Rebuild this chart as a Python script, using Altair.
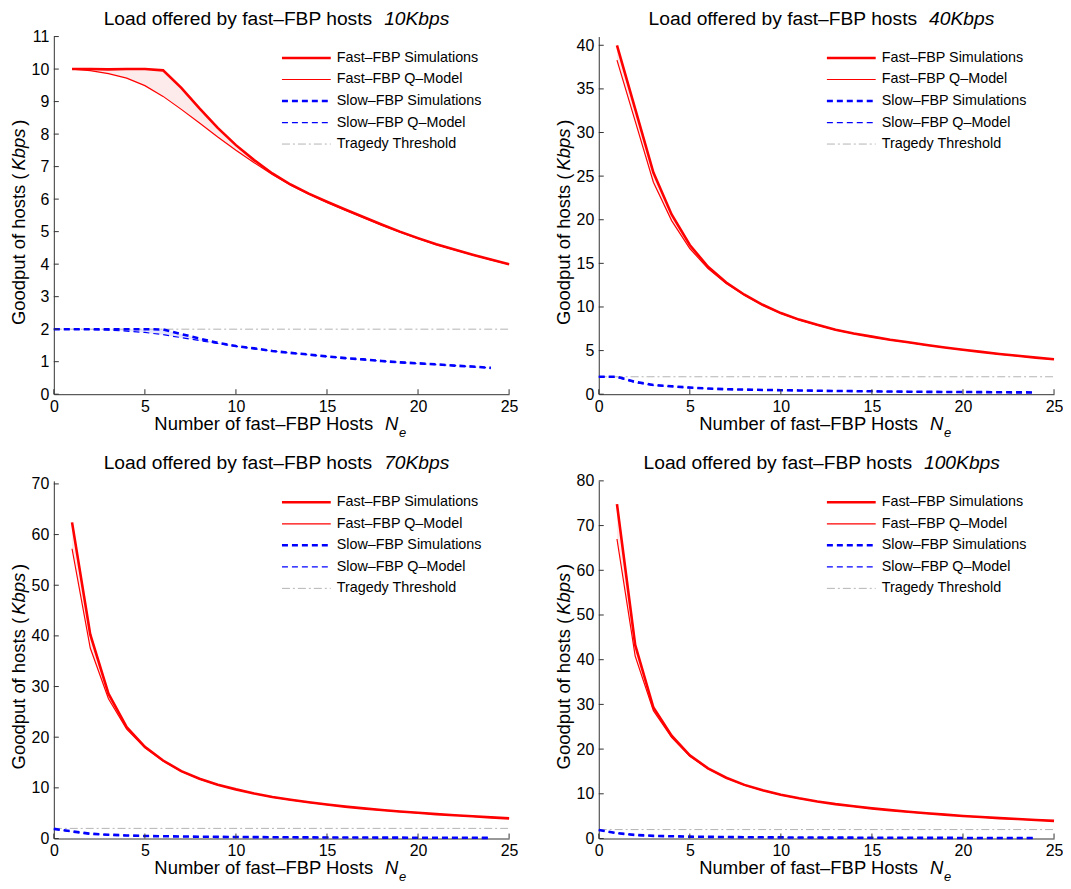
import altair as alt
import pandas as pd

# ---------------- data ----------------
N_FAST = list(range(1, 26))
N_SLOW = list(range(0, 25))
N_THR = [0, 25]
THRESHOLD = [2.0, 2.0]
X_TICKS = [0, 5, 10, 15, 20, 25]

LOADS = ["10Kbps", "40Kbps", "70Kbps", "100Kbps"]
Y_MAX = [11, 41, 70.6, 80]
Y_TICKS = [list(range(0, 12)), list(range(0, 41, 5)),
           list(range(0, 71, 10)), list(range(0, 81, 10))]

LEGEND_LABELS = ["Fast–FBP Simulations", "Fast–FBP Q–Model",
                 "Slow–FBP Simulations", "Slow–FBP Q–Model", "Tragedy Threshold"]

fast_sim_10 = [10.0, 10.0, 9.99, 10.0, 10.0, 9.96, 9.42, 8.79, 8.19, 7.66, 7.2, 6.79, 6.45,
               6.17, 5.92, 5.68, 5.45, 5.22, 5.0, 4.8, 4.61, 4.45, 4.29, 4.14, 4.0]
fast_q_10 = [10.0, 9.95, 9.86, 9.72, 9.49, 9.16, 8.76, 8.34, 7.91, 7.5, 7.12, 6.76, 6.43,
             6.15, 5.9, 5.66, 5.43, 5.2, 4.98, 4.78, 4.6, 4.44, 4.28, 4.13, 3.99]
slow_sim_10 = [2.0, 2.0, 2.0, 2.0, 2.0, 2.0, 1.99, 1.85, 1.71, 1.58, 1.48, 1.41, 1.33,
               1.27, 1.22, 1.16, 1.11, 1.07, 1.02, 0.98, 0.95, 0.92, 0.88, 0.85, 0.81]
slow_q_10 = [2.0, 2.0, 1.99, 1.97, 1.94, 1.9, 1.83, 1.74, 1.65, 1.56, 1.47, 1.4, 1.33,
             1.27, 1.21, 1.16, 1.11, 1.06, 1.02, 0.98, 0.94, 0.91, 0.88, 0.84, 0.81]

fast_sim_40 = [40.0, 32.7, 25.4, 20.6, 17.1, 14.6, 12.8, 11.4, 10.25, 9.3, 8.55, 7.95, 7.4,
               6.97, 6.6, 6.25, 5.95, 5.65, 5.36, 5.1, 4.85, 4.61, 4.4, 4.19, 4.0]
fast_q_40 = [38.3, 31.3, 24.3, 19.9, 16.7, 14.4, 12.7, 11.35, 10.2, 9.27, 8.52, 7.92, 7.38,
             6.95, 6.58, 6.23, 5.93, 5.63, 5.35, 5.09, 4.84, 4.6, 4.39, 4.18, 3.99]
slow_sim_40 = [2.0, 2.0, 1.41, 1.06, 0.91, 0.76, 0.65, 0.57, 0.53, 0.49, 0.46, 0.43, 0.4,
               0.37, 0.35, 0.33, 0.31, 0.29, 0.27, 0.26, 0.25, 0.24, 0.22, 0.21, 0.2]
slow_q_40 = [2.0, 1.95, 1.35, 1.0, 0.87, 0.73, 0.63, 0.56, 0.52, 0.48, 0.45, 0.42, 0.39,
             0.37, 0.34, 0.32, 0.3, 0.29, 0.27, 0.26, 0.24, 0.23, 0.22, 0.21, 0.2]

fast_sim_70 = [62.4, 40.3, 28.6, 22.0, 18.1, 15.4, 13.3, 11.8, 10.6, 9.7, 8.9, 8.2, 7.65,
               7.15, 6.7, 6.3, 5.95, 5.62, 5.33, 5.07, 4.82, 4.6, 4.38, 4.17, 3.97]
fast_q_70 = [57.2, 37.6, 27.6, 21.6, 17.9, 15.3, 13.25, 11.75, 10.57, 9.67, 8.88, 8.18, 7.63,
             7.13, 6.68, 6.29, 5.94, 5.61, 5.32, 5.06, 4.81, 4.59, 4.37, 4.16, 3.96]
slow_sim_70 = [1.9, 1.4, 0.95, 0.75, 0.6, 0.5, 0.45, 0.4, 0.36, 0.33, 0.3, 0.28, 0.26,
               0.24, 0.22, 0.21, 0.2, 0.19, 0.18, 0.17, 0.16, 0.15, 0.15, 0.14, 0.13]
slow_q_70 = [1.9, 1.35, 0.9, 0.72, 0.58, 0.49, 0.44, 0.39, 0.35, 0.32, 0.3, 0.27, 0.25,
             0.23, 0.22, 0.21, 0.2, 0.19, 0.18, 0.17, 0.16, 0.15, 0.14, 0.14, 0.13]

fast_sim_100 = [74.8, 43.3, 29.3, 23.0, 18.6, 15.7, 13.6, 12.0, 10.8, 9.8, 9.0, 8.3, 7.7,
                7.2, 6.75, 6.35, 6.0, 5.65, 5.35, 5.05, 4.8, 4.57, 4.35, 4.15, 3.95]
fast_q_100 = [67.0, 40.8, 28.6, 22.6, 18.4, 15.6, 13.55, 11.95, 10.77, 9.78, 8.98, 8.28, 7.68,
              7.18, 6.73, 6.33, 5.98, 5.64, 5.34, 5.04, 4.79, 4.56, 4.34, 4.14, 3.94]
slow_sim_100 = [1.9, 1.2, 0.8, 0.6, 0.5, 0.42, 0.37, 0.33, 0.3, 0.27, 0.25, 0.23, 0.21,
                0.2, 0.19, 0.18, 0.17, 0.16, 0.15, 0.14, 0.13, 0.12, 0.12, 0.11, 0.1]
slow_q_100 = [1.9, 1.15, 0.75, 0.57, 0.48, 0.4, 0.35, 0.32, 0.29, 0.26, 0.24, 0.22, 0.21,
              0.2, 0.19, 0.18, 0.17, 0.16, 0.15, 0.14, 0.13, 0.12, 0.12, 0.11, 0.1]

PANELS = [
    (fast_sim_10, fast_q_10, slow_sim_10, slow_q_10),
    (fast_sim_40, fast_q_40, slow_sim_40, slow_q_40),
    (fast_sim_70, fast_q_70, slow_sim_70, slow_q_70),
    (fast_sim_100, fast_q_100, slow_sim_100, slow_q_100),
]

# ---------------- styles ----------------
FONT = "Liberation Sans"
RED = "#ff0000"
BLUE = "#0000ff"
GRAY = "#b4b4b4"
STYLES = [
    dict(color=RED, strokeWidth=2.6),
    dict(color=RED, strokeWidth=1.2),
    dict(color=BLUE, strokeWidth=2.6, strokeDash=[6, 4]),
    dict(color=BLUE, strokeWidth=1.2, strokeDash=[6, 4]),
    dict(color=GRAY, strokeWidth=1.0, strokeDash=[8, 3, 2, 3]),
]
W, H = 457, 359
TITLE_SIZE = 19.3
AXT_SIZE = 18.5


def one(text):
    return pd.DataFrame({"t": [text]})


def txt(text, x, y, size=18, style="normal", align="left", angle=0, baseline="alphabetic"):
    kw = dict(font=FONT, fontSize=size, fontStyle=style, align=align,
              baseline=baseline, color="#000")
    if angle:
        kw["angle"] = angle
    return alt.Chart(one(text)).mark_text(**kw).encode(
        text="t:N", x=alt.value(x), y=alt.value(y))


def panel(i):
    fs, fq, ss, sq = PANELS[i]
    xenc = alt.X("N:Q", scale=alt.Scale(domain=[0, 25], nice=False, zero=False),
                 axis=alt.Axis(values=X_TICKS, title=None, grid=False, ticks=False,
                               labelPadding=4, labelFlush=False, labelFontSize=16,
                               labelFont=FONT, labelColor="#000", domainColor="#333"))
    yenc = alt.Y("v:Q", scale=alt.Scale(domain=[0, Y_MAX[i]], nice=False, zero=True),
                 axis=alt.Axis(values=Y_TICKS[i], title=None, grid=False, ticks=False,
                               labelPadding=5, labelFontSize=16, labelFont=FONT,
                               labelColor="#000", domainColor="#333"))

    fast_df = pd.DataFrame({"N": N_FAST, "v": fs, "v2": fq})
    slow_df = pd.DataFrame({"N": N_SLOW, "v": ss, "v2": sq})
    layers = [
        alt.Chart(fast_df).mark_area(color="#fdeaea").encode(x=xenc, y=yenc, y2="v2:Q"),
        alt.Chart(slow_df).mark_area(color="#e6e6fb").encode(x=xenc, y=yenc, y2="v2:Q"),
        alt.Chart(pd.DataFrame({"N": N_THR, "v": THRESHOLD})).mark_line(**STYLES[4]).encode(x=xenc, y=yenc),
        alt.Chart(pd.DataFrame({"N": N_SLOW, "v": sq})).mark_line(**STYLES[3]).encode(x=xenc, y=yenc),
        alt.Chart(pd.DataFrame({"N": N_SLOW, "v": ss})).mark_line(**STYLES[2]).encode(x=xenc, y=yenc),
        alt.Chart(pd.DataFrame({"N": N_FAST, "v": fq})).mark_line(**STYLES[1]).encode(x=xenc, y=yenc),
        alt.Chart(pd.DataFrame({"N": N_FAST, "v": fs})).mark_line(**STYLES[0]).encode(x=xenc, y=yenc),
        # inward ticks
        alt.Chart(pd.DataFrame({"N": X_TICKS})).mark_rule(color="#333").encode(
            x=xenc, y=alt.value(H), y2=alt.value(H - 5)),
        alt.Chart(pd.DataFrame({"v": Y_TICKS[i]})).mark_rule(color="#333").encode(
            y=yenc, x=alt.value(0), x2=alt.value(5)),
    ]
    # legend
    lx0, lx1, tx = 229, 278, 284
    for k, lab in enumerate(LEGEND_LABELS):
        ry = 21.5 + 21.6 * k
        layers.append(alt.Chart(one(lab)).mark_rule(**STYLES[k]).encode(
            x=alt.value(lx0), x2=alt.value(lx1), y=alt.value(ry)))
        layers.append(txt(lab, tx, ry, size=14.4, baseline="middle"))
    # title (normal + italic part)
    load = LOADS[i]
    wn = 13.28 * TITLE_SIZE
    wi = TITLE_SIZE * 0.95 * (0.556 * (len(load) - 4) + 2.279)
    off = (wn - 12 - wi) / 2
    layers.append(txt("Load offered by fast–FBP hosts", W / 2 + off, -12,
                      size=TITLE_SIZE, align="right"))
    layers.append(txt(load, W / 2 + off + 12, -12, size=TITLE_SIZE, style="italic"))
    # y title
    c = H / 2
    layers.append(txt("Goodput of hosts (", -29, c - 42, size=AXT_SIZE, angle=270, align="right"))
    layers.append(txt("Kbps", -29, c - 45, size=AXT_SIZE, angle=270, align="left", style="italic"))
    layers.append(txt(")", -29, c - 90, size=AXT_SIZE, angle=270, align="left"))
    # x title
    layers.append(txt("Number of fast–FBP Hosts", W / 2 + 92, H + 36, size=AXT_SIZE, align="right"))
    layers.append(txt("N", W / 2 + 104, H + 36, size=AXT_SIZE, style="italic"))
    layers.append(txt("e", W / 2 + 118, H + 43, size=13, style="italic"))
    return alt.layer(*layers).properties(width=W, height=H)


chart = alt.concat(
    panel(0), panel(1), panel(2), panel(3),
    columns=2, spacing={"row": 87, "column": 90}, bounds="flush"
).properties(
    padding={"left": 2, "top": 0, "right": 0, "bottom": 0}
).configure_view(stroke=None)

chart.save("out.html", embed_options={"renderer": "svg", "actions": False})
